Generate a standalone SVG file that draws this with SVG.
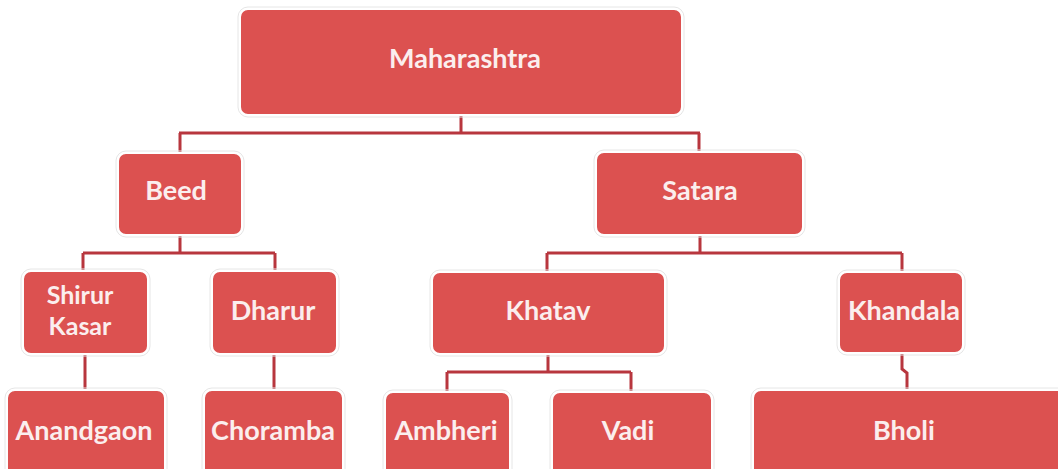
<svg xmlns="http://www.w3.org/2000/svg" width="1058" height="469" viewBox="0 0 1058 469">
<style>
.box{fill:#dc5150;stroke:#ffffff;stroke-width:2;}
.halo{fill:none;stroke:#e6e6e6;stroke-width:1;}
.lbl{font-family:Lato,"Open Sans",sans-serif;font-weight:bold;font-size:27px;fill:#fbeeee;text-anchor:middle;}
.sm{font-size:25px;}
.con{fill:none;stroke:#b8363e;stroke-width:3;}
</style>
<rect width="1058" height="469" fill="#ffffff"/>
<g id="connectors">
<path class="con" d="M461,115 V133 M179,133 H700 M180,133 V153 M699,133 V152"/>
<path class="con" d="M180,235 V253 M83,253 H275 M83,253 V271 M275,253 V271"/>
<path class="con" d="M85,354 V390 M274,354 V390"/>
<path class="con" d="M700,235 V253 M547,253 H902 M547,253 V272 M902,253 V272"/>
<path class="con" d="M548,354 V372 M447,372 H631 M447,372 V392 M631,372 V392"/>
<path class="con" d="M902,353 V369 L907,373 V390"/>
</g>
<g id="maharashtra"><rect class="halo" x="238" y="7" width="446" height="110" rx="10"/><rect class="box" x="240" y="9" width="442" height="106" rx="8"/><text class="lbl" x="465" y="68">Maharashtra</text></g>
<g id="beed"><rect class="halo" x="116" y="151" width="128" height="86" rx="10"/><rect class="box" x="118" y="153" width="124" height="82" rx="8"/><text class="lbl" x="176" y="200">Beed</text></g>
<g id="satara"><rect class="halo" x="594" y="150" width="211" height="87" rx="10"/><rect class="box" x="596" y="152" width="207" height="83" rx="8"/><text class="lbl" x="700" y="200">Satara</text></g>
<g id="shirur-kasar"><rect class="halo" x="21" y="269" width="129" height="87" rx="10"/><rect class="box" x="23" y="271" width="125" height="83" rx="8"/><text class="lbl sm" x="80" y="304">Shirur</text><text class="lbl sm" x="80" y="335">Kasar</text></g>
<g id="dharur"><rect class="halo" x="210" y="269" width="129" height="87" rx="10"/><rect class="box" x="212" y="271" width="125" height="83" rx="8"/><text class="lbl" x="273" y="320">Dharur</text></g>
<g id="khatav"><rect class="halo" x="430" y="270" width="237" height="86" rx="10"/><rect class="box" x="432" y="272" width="233" height="82" rx="8"/><text class="lbl" x="548" y="320">Khatav</text></g>
<g id="khandala"><rect class="halo" x="837" y="270" width="128" height="85" rx="10"/><rect class="box" x="839" y="272" width="124" height="81" rx="8"/><text class="lbl" x="904" y="320">Khandala</text></g>
<g id="anandgaon"><rect class="halo" x="5" y="388" width="162" height="100" rx="10"/><rect class="box" x="7" y="390" width="158" height="96" rx="8"/><text class="lbl" x="84" y="440">Anandgaon</text></g>
<g id="choramba"><rect class="halo" x="202" y="388" width="143" height="100" rx="10"/><rect class="box" x="204" y="390" width="139" height="96" rx="8"/><text class="lbl" x="273" y="440">Choramba</text></g>
<g id="ambheri"><rect class="halo" x="383" y="390" width="129" height="100" rx="10"/><rect class="box" x="385" y="392" width="125" height="96" rx="8"/><text class="lbl" x="446" y="440">Ambheri</text></g>
<g id="vadi"><rect class="halo" x="550" y="390" width="164" height="100" rx="10"/><rect class="box" x="552" y="392" width="160" height="96" rx="8"/><text class="lbl" x="628" y="440">Vadi</text></g>
<g id="bholi"><rect class="halo" x="751" y="388" width="320" height="100" rx="10"/><rect class="box" x="753" y="390" width="316" height="96" rx="8"/><text class="lbl" x="904" y="440">Bholi</text></g>
</svg>
